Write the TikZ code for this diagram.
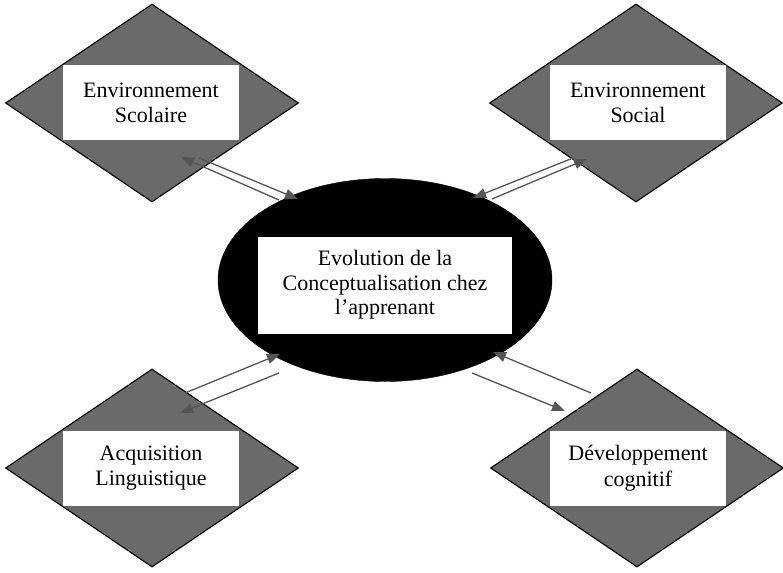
\documentclass[tikz,border=0pt]{standalone}
\usepackage{fontspec}
\setmainfont{Liberation Serif}
\usetikzlibrary{shapes.geometric,arrows.meta}
\definecolor{dgray}{RGB}{106,106,106}
\definecolor{agray}{RGB}{85,85,85}
\begin{document}
\begin{tikzpicture}[x=1pt,y=-1pt,
  losange/.style={shape=diamond,draw=black,line width=1.1pt,fill=dgray,
    minimum width=293pt,minimum height=198pt,inner sep=0pt},
  label box/.style={fill=white,draw=none,minimum width=176pt,minimum height=75pt,
    inner sep=0pt,align=center,font=\fontsize{22}{25.5}\selectfont},
  hub/.style={ellipse,fill=black,draw=black,minimum width=334pt,minimum height=203pt,inner sep=0pt},
  hub box/.style={fill=white,draw=none,minimum width=254pt,minimum height=97pt,
    inner sep=0pt,align=center,font=\fontsize{22}{24.5}\selectfont},
  link/.style={draw=agray,line width=1.3pt,-{Triangle[length=13pt,width=10pt]}}]
\useasboundingbox (0,0) rectangle (783,572);
\fill[white] (0,0) rectangle (783,572);

% four surrounding factors
\node[losange] (d1) at (152,103) {};
\node[losange] (d2) at (636,103) {};
\node[losange] (d3) at (152,468) {};
\node[losange] (d4) at (637,468) {};
\node[label box] (t1) at (151,103) {Environnement\\Scolaire};
\node[label box] (t2) at (638,103) {Environnement\\Social};
\node[label box] (t3) at (151,468) {Acquisition\\Linguistique};
\node[label box] (t4) at (638,468) {Développement\\cognitif};

% central concept
\node[hub] (c) at (385,280) {};
\node[hub box] (tc) at (385,285) {Evolution de la\\Conceptualisation chez\\l’apprenant};

% arrow end points
\coordinate (a1s) at (279,200); \coordinate (a1e) at (181,157);
\coordinate (a2s) at (199,158); \coordinate (a2e) at (298,199);
\coordinate (a3s) at (573,158); \coordinate (a3e) at (473,198);
\coordinate (a4s) at (492,199); \coordinate (a4e) at (587,159);
\coordinate (a5s) at (185,393); \coordinate (a5e) at (280,354);
\coordinate (a6s) at (279,373); \coordinate (a6e) at (180,413);
\coordinate (a7s) at (591,393); \coordinate (a7e) at (493,352);
\coordinate (a8s) at (472,373); \coordinate (a8e) at (565,411);

% two-way exchanges between the hub and each factor
\draw[link] (a1s) -- (a1e);
\draw[link] (a2s) -- (a2e);
\draw[link] (a3s) -- (a3e);
\draw[link] (a4s) -- (a4e);
\draw[link] (a5s) -- (a5e);
\draw[link] (a6s) -- (a6e);
\draw[link] (a7s) -- (a7e);
\draw[link] (a8s) -- (a8e);
\end{tikzpicture}
\end{document}
